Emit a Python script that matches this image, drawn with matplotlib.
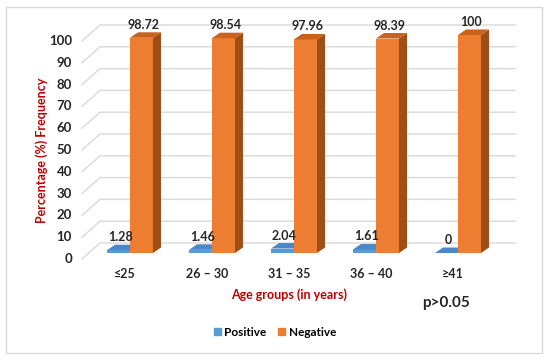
import numpy as np
import matplotlib.pyplot as plt
from matplotlib.patches import Polygon, Rectangle

plt.rcParams['font.family'] = ['Lato', 'DejaVu Sans']

# data
groups = ['≤25', '26 – 30', '31 – 35', '36 – 40', '≥41']
positive = [1.28, 1.46, 2.04, 1.61, 0]
negative = [98.72, 98.54, 97.96, 98.39, 100]
yticks = list(range(0, 101, 10))

W, H = 558, 362
fig = plt.figure(figsize=(W / 100, H / 100), dpi=100)

# axes placed in pixels: x from 82 to 515, y (0..100) from 253 to 35
ax = fig.add_axes([82 / W, (H - 253) / H, (515 - 82) / W, 218 / H])
xl, xr = -0.585, 4.695
ax.set_xlim(xl, xr)
ax.set_ylim(0, 100)
ax.axis('off')

ppx = (xr - xl) / (515 - 82)   # x data units per pixel
ppy = 100 / 218                 # y data units per pixel

width = 23 * ppx
ddx, ddy = 8 * ppx, 5.5 * ppy   # bar depth
back_dy = 10 * ppy              # back wall offset up
front_dy = 6 * ppy              # front edge offset down
slant_dx = 18 * ppx

grid_col = '#d9d9d9'
for v in yticks:
    ax.plot([xl, xl + slant_dx, xr], [v - front_dy, v + back_dy, v + back_dy],
            color=grid_col, lw=1, zorder=1, clip_on=False)
    ax.text(xl - 10 * ppx, v - front_dy, str(v), ha='right', va='center',
            fontsize=9.5, fontweight='bold', color='#262626', clip_on=False)


def bar3d(x0, h, front, side, top, z):
    ax.bar(x0, h, width=width, align='edge', color=front, zorder=z, lw=0)
    ax.add_patch(Polygon([(x0 + width, 0), (x0 + width + ddx, ddy),
                          (x0 + width + ddx, h + ddy), (x0 + width, h)],
                         closed=True, color=side, lw=0, zorder=z, clip_on=False))
    ax.add_patch(Polygon([(x0, h), (x0 + width, h), (x0 + width + ddx, h + ddy),
                          (x0 + ddx, h + ddy)],
                         closed=True, color=top, lw=0, zorder=z, clip_on=False))


x = np.arange(len(groups))
for i in x:
    bar3d(i - width, positive[i], '#5b9bd5', '#2f6ea8', '#4a88c7', 2)
    bar3d(i, negative[i], '#ed7d31', '#9e4e17', '#c9621c', 3)
    ax.text(i - width / 2 + 2 * ppx, positive[i] + 13 * ppy, f'{positive[i]:g}',
            ha='center', va='center', fontsize=9, fontweight='bold', color='#262626')
    ax.text(i + width / 2 + 2 * ppx, negative[i] + 13 * ppy, f'{negative[i]:g}',
            ha='center', va='center', fontsize=9, fontweight='bold', color='#262626',
            clip_on=False)
    ax.text(i - 5 * ppx, -21 * ppy, groups[i], ha='center', va='center',
            fontsize=9, fontweight='bold', color='#262626', clip_on=False)

# labels in pixel positions
fig.text(42 / W, 1 - 150 / H, 'Percentage (%) Frequency', rotation=90,
         ha='center', va='center', fontsize=9, fontweight='bold', color='#c00000')
fig.text(289 / W, 1 - 295 / H, 'Age groups (in years)', ha='center', va='center',
         fontsize=9, fontweight='bold', color='#c00000')
fig.text(446 / W, 1 - 303 / H, 'p>0.05', ha='center', va='center',
         fontsize=11, fontweight='bold', color='#262626')

h1 = Rectangle((0, 0), 1, 1, color='#5b9bd5')
h2 = Rectangle((0, 0), 1, 1, color='#ed7d31')
leg = fig.legend([h1, h2], ['Positive', 'Negative'], ncol=2, frameon=False,
                 loc='center', bbox_to_anchor=(275 / W, 1 - 332 / H),
                 handlelength=0.6, handleheight=0.6, handletextpad=0.3,
                 columnspacing=1.0, prop={'size': 8.5, 'weight': 'bold'})

# outer frame
fig.patches.append(Rectangle((6 / W, 1 - 353 / H), 536 / W, 346 / H,
                             transform=fig.transFigure, fill=False,
                             ec='#d9d9d9', lw=1))

fig.savefig('out.png', dpi=100)
